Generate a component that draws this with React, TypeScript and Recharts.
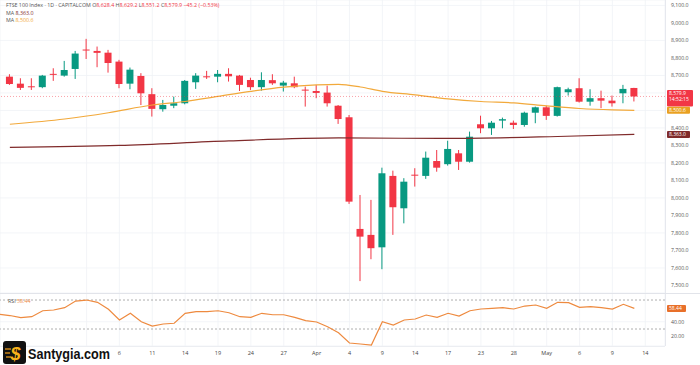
import React from 'react';
import {
  ComposedChart,
  Bar,
  Line,
  XAxis,
  YAxis,
  CartesianGrid,
  ReferenceLine,
} from 'recharts';

// daily candles, FTSE 100 (CAPITALCOM)
const opens = [
  8693, 8653, 8638, 8633, 8709, 8699, 8737, 8848, 8840, 8830, 8779, 8653, 8697, 8593, 8507, 8527,
  8541, 8661, 8695, 8693, 8709, 8699, 8674, 8633, 8673, 8642, 8655, 8619, 8611, 8602, 8527, 8461,
  7823, 7789, 7718, 8126, 7941, 8133, 8126, 8211, 8193, 8255, 8207, 8421, 8398, 8442, 8430, 8417,
  8487, 8518, 8469, 8604, 8627, 8550, 8570, 8556, 8598, 8628.4,
];
const highs = [
  8707, 8684, 8684, 8703, 8741, 8783, 8840, 8909, 8865, 8846, 8789, 8745, 8713, 8627, 8560, 8579,
  8674, 8713, 8726, 8731, 8741, 8703, 8687, 8718, 8707, 8669, 8693, 8636, 8646, 8642, 8531, 8474,
  8017, 7989, 8173, 8156, 8113, 8170, 8265, 8274, 8327, 8274, 8379, 8470, 8440, 8459, 8442, 8493,
  8522, 8527, 8636, 8630, 8684, 8621, 8613, 8585, 8646, 8629.2,
];
const lows = [
  8646, 8617, 8617, 8627, 8669, 8693, 8680, 8794, 8747, 8716, 8627, 8621, 8531, 8465, 8493, 8513,
  8535, 8623, 8680, 8661, 8665, 8611, 8617, 8613, 8646, 8608, 8627, 8522, 8570, 8522, 8423, 7966,
  7525, 7650, 7593, 7789, 7855, 8065, 8109, 8150, 8185, 8160, 8202, 8370, 8360, 8398, 8394, 8407,
  8427, 8446, 8465, 8585, 8545, 8527, 8513, 8522, 8541, 8551.2,
];
const closes = [
  8651, 8629, 8634, 8699, 8705, 8731, 8825, 8844, 8829, 8771, 8651, 8733, 8598, 8509, 8531, 8541,
  8669, 8699, 8693, 8709, 8695, 8646, 8633, 8674, 8655, 8659, 8633, 8615, 8600, 8541, 8451, 7979,
  7779, 7713, 8141, 7947, 8093, 8131, 8230, 8173, 8280, 8207, 8350, 8398, 8430, 8450, 8417, 8487,
  8518, 8469, 8633, 8621, 8550, 8570, 8556, 8541, 8623, 8579.9,
];

// moving averages read at a few bars: [bar, value]
const ma50Points = [
  [0, 8421], [5, 8451], [9, 8487], [13, 8531], [16, 8551], [19, 8580], [22, 8609],
  [25, 8633], [28, 8646], [30, 8649], [32, 8634], [34, 8609], [37, 8589], [40, 8566], [43, 8551],
  [46, 8543], [49, 8526], [52, 8511], [55, 8503], [57, 8500.6],
];
const ma200Points = [
  [0, 8289], [10, 8300], [20, 8326], [30, 8343], [40, 8340], [50, 8351], [57, 8363],
];

const rsiValues = [
  48.6, 45.6, 47.0, 55.2, 56.2, 59.4, 68.6, 70.0, 66.8, 57.2, 42.4, 51.7, 40.1, 34.1, 36.9, 37.9,
  51.7, 53.9, 53.9, 55.2, 52.5, 47.0, 46.1, 51.7, 49.7, 49.7, 46.1, 41.5, 39.7, 33.2, 24.9, 10.7,
  9.3, 7.9, 40.1, 35.5, 42.4, 43.8, 49.3, 46.1, 51.7, 47.9, 55.2, 57.6, 58.6, 59.4, 57.6, 61.7,
  63.1, 58.6, 66.8, 66.3, 59.9, 60.8, 59.4, 57.6, 64.1, 58.44,
];
const rsiFirst = 50.2;

const tickBars = [7, 10, 13, 16, 19, 22, 25, 28, 31, 34, 37, 40, 43, 46, 49, 52, 55, 58];
const tickLabels = ['', '6', '11', '14', '19', '24', '27', 'Apr', '4', '9', '14', '17', '23', '28', 'May', '6', '9', '14'];

const priceTicks = [7500, 7600, 7700, 7800, 7900, 8000, 8100, 8200, 8300, 8400, 8500, 8600, 8700, 8800, 8900, 9000, 9100];
// these two levels sit under the price tags
const coveredTicks = [8500, 8600];

const UP = '#089981';
const DOWN = '#f23645';
const MA50_COLOR = '#f2a93b';
const MA200_COLOR = '#802b2b';
const RSI_COLOR = '#ee8a3f';
const FONT = '"Open Sans", Roboto, sans-serif';

const rows: any[] = [{ i: -0.9, rsi: rsiFirst }];
opens.forEach((o, i) => {
  rows.push({ i, o, h: highs[i], l: lows[i], c: closes[i], range: [lows[i], highs[i]], rsi: rsiValues[i] });
});
ma50Points.forEach(([i, v]) => {
  const r = rows.find((row) => row.i === i);
  if (r) r.ma50 = v;
});
ma200Points.forEach(([i, v]) => {
  const r = rows.find((row) => row.i === i);
  if (r) r.ma200 = v;
});

const xDomain = [-0.9, 59.8];
const fmtPrice = (v: number) =>
  coveredTicks.includes(v) ? '' : v.toLocaleString('en-US', { minimumFractionDigits: 1, maximumFractionDigits: 1 });

function Candle(props: any) {
  const { x, y, width, height, payload } = props;
  if (!payload || payload.o == null) return null;
  const top = Math.min(y, y + height);
  const hPx = Math.abs(height);
  const k = hPx / (payload.h - payload.l);
  const yO = top + (payload.h - payload.o) * k;
  const yC = top + (payload.h - payload.c) * k;
  const color = payload.c >= payload.o ? UP : DOWN;
  const cx = x + width / 2;
  const bodyTop = Math.min(yO, yC);
  const bodyH = Math.max(1, Math.abs(yO - yC));
  return (
    <g>
      <line x1={cx} x2={cx} y1={top} y2={top + hPx} stroke={color} strokeWidth={1} />
      <rect x={x} y={bodyTop} width={width} height={bodyH} fill={color} />
    </g>
  );
}

function Tag({ viewBox, text, sub, fill, w }: any) {
  if (!viewBox) return null;
  const x = viewBox.x + viewBox.width + 2;
  const y = viewBox.y;
  const h = sub ? 16.5 : 7;
  const top = sub ? y - 6.5 : y - 3.5;
  return (
    <g>
      <rect x={x} y={top} width={w} height={h} rx={1} fill={fill} />
      <text x={x + 2} y={top + 5.3} fontSize={5} fill="#fff" fontFamily={FONT}>
        {text}
      </text>
      {sub && (
        <text x={x + 2} y={top + 11.5} fontSize={5} fill="#fff" fontFamily={FONT}>
          {sub}
        </text>
      )}
    </g>
  );
}

export default function App() {
  return (
    <div style={{ position: 'absolute', left: 0, top: 0, width: 700, height: 365, background: '#fff', fontFamily: FONT }}>
      <div style={{ position: 'absolute', left: 0, top: 0 }}>
        <ComposedChart width={700} height={293} data={rows} margin={{ top: 0, right: 0, left: 0, bottom: 0 }}>
          <CartesianGrid stroke="#f0f2f6" strokeWidth={0.8} />
          <XAxis dataKey="i" type="number" domain={xDomain} ticks={tickBars} allowDataOverflow hide />
          <YAxis
            orientation="right"
            width={35}
            type="number"
            domain={[7457, 9131]}
            ticks={priceTicks}
            allowDataOverflow
            axisLine={false}
            tickLine={false}
            tickSize={6}
            tickMargin={0}
            tick={{ fontSize: 5.2, fill: '#555', fontFamily: FONT }}
            tickFormatter={fmtPrice}
          />
          <Line dataKey="ma200" type="monotone" stroke={MA200_COLOR} strokeWidth={1.2} dot={false} activeDot={false} connectNulls isAnimationActive={false} />
          <Line dataKey="ma50" type="monotone" stroke={MA50_COLOR} strokeWidth={1.2} dot={false} activeDot={false} connectNulls isAnimationActive={false} />
          <Bar dataKey="range" barSize={7} shape={<Candle />} isAnimationActive={false} />
          <ReferenceLine
            y={8579.9}
            stroke={DOWN}
            strokeOpacity={0.45}
            strokeDasharray="1 2"
            label={(p: any) => <Tag viewBox={p.viewBox} text="8,579.9" sub="14:52:15" fill={DOWN} w={26} />}
          />
          <ReferenceLine
            y={8500.6}
            stroke="none"
            label={(p: any) => <Tag viewBox={p.viewBox} text="8,500.6" fill="#e9a020" w={23} />}
          />
          <ReferenceLine
            y={8363.0}
            stroke="none"
            label={(p: any) => <Tag viewBox={p.viewBox} text="8,363.0" fill={MA200_COLOR} w={23} />}
          />
        </ComposedChart>
      </div>
      <div style={{ position: 'absolute', left: 0, top: 293 }}>
        <ComposedChart width={700} height={72} data={rows} margin={{ top: 0, right: 0, left: 0, bottom: 0 }}>
          <CartesianGrid stroke="#f0f2f6" strokeWidth={0.8} />
          <XAxis
            dataKey="i"
            type="number"
            domain={xDomain}
            ticks={tickBars}
            allowDataOverflow
            height={19}
            axisLine={false}
            tickLine={false}
            tickSize={5}
            tickMargin={0}
            interval={0}
            tick={{ fontSize: 5.5, fill: '#444', fontFamily: FONT }}
            tickFormatter={(v: number) => tickLabels[tickBars.indexOf(v)] ?? ''}
          />
          <YAxis
            orientation="right"
            width={35}
            type="number"
            domain={[6.55, 79.7]}
            ticks={[20, 40]}
            allowDataOverflow
            axisLine={false}
            tickLine={false}
            tickSize={6}
            tickMargin={0}
            tick={{ fontSize: 5.2, fill: '#555', fontFamily: FONT }}
            tickFormatter={(v: number) => v.toFixed(2)}
          />
          <ReferenceLine y={70} stroke="#9a9a9a" strokeDasharray="2 2" strokeWidth={0.8} />
          <ReferenceLine y={30} stroke="#9a9a9a" strokeDasharray="2 2" strokeWidth={0.8} />
          <Line dataKey="rsi" type="linear" stroke={RSI_COLOR} strokeWidth={1.2} dot={false} activeDot={false} isAnimationActive={false} />
          <ReferenceLine
            y={58.44}
            stroke="none"
            label={(p: any) => <Tag viewBox={p.viewBox} text="58.44" fill="#e8702a" w={19} />}
          />
        </ComposedChart>
      </div>
      <svg width={700} height={365} style={{ position: 'absolute', left: 0, top: 0, pointerEvents: 'none' }}>
        <line x1={665.5} x2={665.5} y1={0} y2={346} stroke="#e6e8ee" />
        <line x1={0} x2={700} y1={293.5} y2={293.5} stroke="#e2e4ea" />
        <line x1={0} x2={665} y1={346.5} y2={346.5} stroke="#eceef2" />
        <text x={6} y={7} fontSize={5.3} fontFamily={FONT} fill="#555">
          FTSE 100 Index · 1D · CAPITALCOM
          <tspan fill="#555"> O</tspan>
          <tspan fill={DOWN}>8,628.4</tspan>
          <tspan fill="#555"> H</tspan>
          <tspan fill={DOWN}>8,629.2</tspan>
          <tspan fill="#555"> L</tspan>
          <tspan fill={DOWN}>8,551.2</tspan>
          <tspan fill="#555"> C</tspan>
          <tspan fill={DOWN}>8,579.9 −45.2 (−0.53%)</tspan>
        </text>
        <text x={6} y={14.5} fontSize={5.3} fontFamily={FONT} fill="#555">
          MA <tspan fill={MA200_COLOR}>8,363.0</tspan>
        </text>
        <text x={6} y={22} fontSize={5.3} fontFamily={FONT} fill="#555">
          MA <tspan fill={MA50_COLOR}>8,500.6</tspan>
        </text>
        <text x={8} y={302.5} fontSize={5.3} fontFamily={FONT} fill="#555">
          RSI <tspan fill={RSI_COLOR}>58.44</tspan>
        </text>
        <g>
          <rect x={3} y={341} width={23} height={23} rx={3} fill="#111" />
          <line x1={5} x2={11} y1={349} y2={349} stroke="#f7a21b" strokeWidth={1.2} />
          <line x1={5} x2={10} y1={353} y2={353} stroke="#f7a21b" strokeWidth={1.2} />
          <line x1={6} x2={11} y1={357} y2={357} stroke="#f7a21b" strokeWidth={1.2} />
          <text x={10.5} y={360} fontSize={18} fontWeight={800} fontStyle="italic" fill="#f7b21b" fontFamily="Liberation Sans, Arial, sans-serif">
            $
          </text>
          <text
            x={28}
            y={359}
            fontSize={14}
            fontWeight={800}
            fill="#111"
            stroke="#fff"
            strokeWidth={1.5}
            paintOrder="stroke"
            textLength={82}
            lengthAdjust="spacingAndGlyphs"
            fontFamily="Liberation Sans, Arial, sans-serif"
          >
            Santygia.com
          </text>
        </g>
      </svg>
    </div>
  );
}
